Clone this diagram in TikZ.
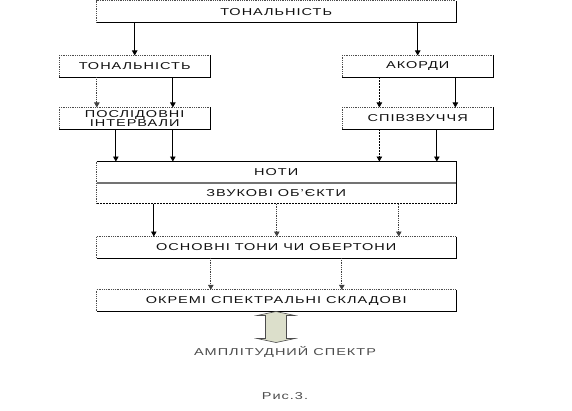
\documentclass[tikz,border=0pt]{standalone}
\usepackage{fontspec}
\setmainfont{Liberation Sans}
\newfontfamily\boxfont{Liberation Sans}[FakeStretch=1.45,LetterSpace=10]
\usetikzlibrary{arrows.meta}
\definecolor{arrowfill}{HTML}{DCDFCB}
\definecolor{txt}{HTML}{111111}
\newcommand\boxedges[1]{%
  \draw[dotedge] (#1.south west) |- (#1.north east);
  \draw[solidedge] (#1.north east) |- (#1.south west);}
\begin{document}
\begin{tikzpicture}[x=1pt,y=-1pt,
  box/.style={draw=none, fill=white, inner sep=0pt, text=txt,
    font=\boxfont\fontsize{10}{9.5}\selectfont, align=center},
  wide/.style={box, minimum width=359pt, minimum height=21pt},
  narrow/.style={box, minimum width=150.7pt, minimum height=21.3pt},
  lbl/.style={inner sep=0pt, text=black!70, font=\boxfont\fontsize{10}{10}\selectfont},
  solidedge/.style={line width=0.8pt, black},
  dotedge/.style={line width=0.8pt, black!70, densely dotted},
  conn/.style={line width=0.8pt, -{Triangle[width=5.5pt,length=5pt]}},
  sol/.style={conn, black},
  dot/.style={conn, black!75, densely dotted},
  dsh/.style={conn, black, dash pattern=on 2pt off 1pt},
]
\useasboundingbox (0,0) rectangle (572,410);

% boxes
\node[wide, minimum height=21.5pt] (top) at (276.2,11.75) {ТОНАЛЬНІСТЬ};
\node[narrow] (ton) at (134.7,66.3) {ТОНАЛЬНІСТЬ};
\node[narrow] (ak) at (417.7,66.3) {АКОРДИ};
\node[narrow] (pos) at (134.7,118.3) {ПОСЛІДОВНІ\\ІНТЕРВАЛИ};
\node[narrow] (spiv) at (417.7,118.3) {СПІВЗВУЧЧЯ};
\node[wide] (noty) at (276.2,172.2) {НОТИ};
\node[wide, minimum height=20.8pt] (zv) at (276.2,193.1) {ЗВУКОВІ ОБ’ЄКТИ};
\node[wide] (osn) at (276.2,247.2) {ОСНОВНІ ТОНИ ЧИ ОБЕРТОНИ};
\node[wide] (okr) at (276.2,300.5) {ОКРЕМІ СПЕКТРАЛЬНІ СКЛАДОВІ};

\boxedges{top}
\boxedges{ton}
\boxedges{ak}
\boxedges{pos}
\boxedges{spiv}
\boxedges{osn}
\boxedges{okr}
% combined НОТИ / ЗВУКОВІ ОБ'ЄКТИ box
\draw[dotedge] (zv.south west) -- (noty.north west);
\draw[solidedge] (noty.north west) -- (noty.north east) -- (zv.south east);
\draw[line width=0.8pt, black, dash pattern=on 2pt off 1pt] (zv.south east) -- (zv.south west);
\draw[line width=1.2pt, black!55] (noty.south west) -- (noty.south east);

% connectors
\draw[sol] (top.south -| ton.north) -- (ton.north);
\draw[sol] (top.south -| ak.north) -- (ak.north);
\draw[dot] ([xshift=37.7pt]ton.south west) coordinate (c3) -- (c3 |- pos.north);
\draw[sol] ([xshift=113.7pt]ton.south west) coordinate (c4) -- (c4 |- pos.north);
\draw[dsh] ([xshift=37.2pt]ak.south west) coordinate (c5) -- (c5 |- spiv.north);
\draw[sol] ([xshift=113.2pt]ak.south west) coordinate (c6) -- (c6 |- spiv.north);
\draw[sol] ([xshift=56.7pt]pos.south west) coordinate (c7) -- (c7 |- noty.north);
\draw[sol] (c4 |- pos.south) -- (c4 |- noty.north);
\draw[dsh] (c5 |- spiv.south) -- (c5 |- noty.north);
\draw[sol] ([xshift=94.7pt]spiv.south west) coordinate (c10) -- (c10 |- noty.north);
\draw[sol] ([xshift=57.3pt]zv.south west) coordinate (c11) -- (c11 |- osn.north);
\draw[dot] ([xshift=180.3pt]zv.south west) coordinate (c12) -- (c12 |- osn.north);
\draw[dot] ([xshift=302.3pt]zv.south west) coordinate (c13) -- (c13 |- osn.north);
\draw[dot] ([xshift=114.3pt]osn.south west) coordinate (c14) -- (c14 |- okr.north);
\draw[dot] ([xshift=245.3pt]osn.south west) coordinate (c15) -- (c15 |- okr.north);

% double arrow
\filldraw[fill=arrowfill, draw=black!70, line width=0.6pt]
  (276,311.5) -- (295,315.5) -- (286.5,315.5) -- (286.5,338.5) -- (295,338.5)
  -- (276,342.5) -- (257,338.5) -- (265.5,338.5) -- (265.5,315.5) -- (257,315.5) -- cycle;

\node[lbl] (amp) at (285,352) {АМПЛІТУДНИЙ СПЕКТР};
\node[lbl] (fig) at (285,396.5) {Рис.3.};
\end{tikzpicture}
\end{document}
